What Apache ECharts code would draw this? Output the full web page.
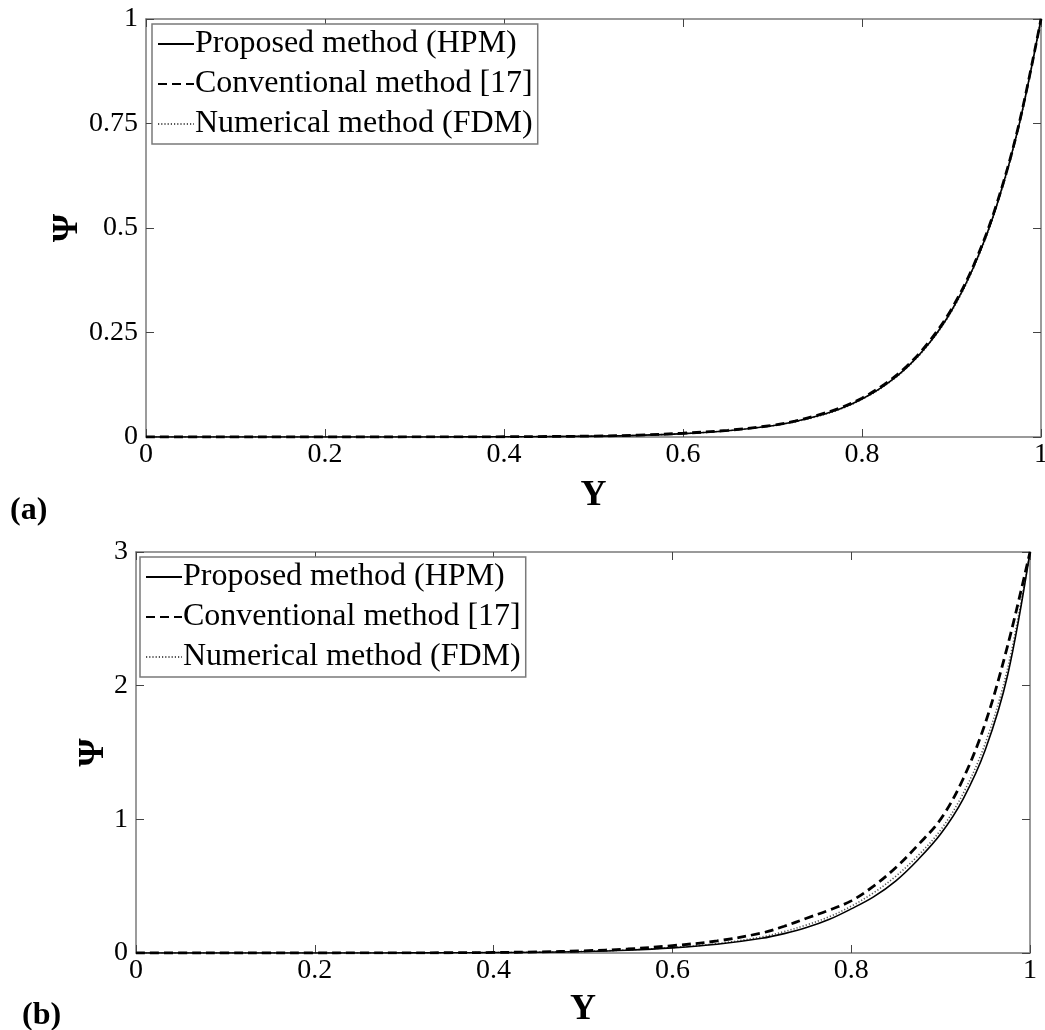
<!DOCTYPE html>
<html>
<head>
<meta charset="utf-8">
<script src="https://cdn.jsdelivr.net/npm/echarts@6/dist/echarts.min.js"></script>
<style>
  html, body { margin: 0; padding: 0; background: #fff; }
  #chart { width: 1045px; height: 1030px; }
</style>
</head>
<body>
<div id="chart"></div>
<script>
// Dimensionless coordinate Y (shared by both panels)
const Y_VALUES = [0, 0.05, 0.1, 0.15, 0.2, 0.25, 0.3, 0.35, 0.4, 0.45, 0.5, 0.55, 0.6, 0.65,
  0.7, 0.725, 0.75, 0.775, 0.8, 0.825, 0.85, 0.875, 0.9, 0.925, 0.95, 0.975, 1];

// Panel (a)
const HPM_A  = [0, 0, 0, 0, 0, 0, 0, 0.0002, 0.0005, 0.001, 0.002, 0.004, 0.008, 0.015,
  0.027, 0.037, 0.05, 0.067, 0.091, 0.123, 0.166, 0.224, 0.302, 0.408, 0.55, 0.742, 1];
const CONV_A = [0, 0, 0, 0, 0, 0, 0.0001, 0.0003, 0.0006, 0.0012, 0.0023, 0.0045, 0.009, 0.016,
  0.028, 0.038, 0.052, 0.069, 0.093, 0.126, 0.169, 0.228, 0.306, 0.412, 0.554, 0.745, 1];
const FDM_A  = [0, 0, 0, 0, 0, 0, 0, 0.0002, 0.0005, 0.001, 0.002, 0.004, 0.008, 0.015,
  0.027, 0.036, 0.049, 0.066, 0.09, 0.122, 0.165, 0.223, 0.3, 0.406, 0.548, 0.74, 1];

// Panel (b)
const HPM_B  = [0, 0, 0, 0, 0, 0.0003, 0.0007, 0.0015, 0.003, 0.006, 0.011, 0.021, 0.038, 0.065,
  0.11, 0.145, 0.19, 0.25, 0.33, 0.42, 0.54, 0.70, 0.89, 1.15, 1.52, 2.08, 3.0];
const CONV_B = [0, 0, 0, 0, 0, 0.0005, 0.001, 0.002, 0.004, 0.008, 0.016, 0.03, 0.055, 0.09,
  0.15, 0.2, 0.26, 0.32, 0.39, 0.50, 0.64, 0.81, 1.0, 1.30, 1.72, 2.30, 3.0];
const FDM_B  = [0, 0, 0, 0, 0, 0.0003, 0.0008, 0.0016, 0.0033, 0.0065, 0.012, 0.023, 0.041, 0.07,
  0.12, 0.16, 0.21, 0.27, 0.35, 0.45, 0.575, 0.73, 0.92, 1.19, 1.57, 2.13, 3.0];

const SERIES_NAMES = ['Proposed method (HPM)', 'Conventional method [17]', 'Numerical method (FDM)'];
const X_TICKS = [0, 0.2, 0.4, 0.6, 0.8, 1];
const Y_TICKS_A = [0, 0.25, 0.5, 0.75, 1];
const Y_TICKS_B = [0, 1, 2, 3];
const PANEL_TAGS = ['(a)', '(b)'];
const AXIS_TITLE_X = 'Y';
const AXIS_TITLE_Y = 'Ψ';

const SERIF = '"Liberation Serif", "DejaVu Serif", serif';
const BOX = '#7a7a7a';
const WIDTH = 1045;

// Plot rectangles of the two panels, plus where their titles, tags and legends sit
const GRIDS = [
  { left: 146, right: 4, top: 19, height: 418 },
  { left: 136, right: 15, top: 552, height: 401 }
];
const Y_TITLE_X = [68, 94];
const X_TITLE_Y = [496, 1010];
const TAG_POS = [{ left: 5, top: 490 }, { left: 17, top: 995 }];
const LEGEND_POS = [{ left: 152, top: 24 }, { left: 140, top: 557 }];

const pairs = (ys) => Y_VALUES.map((x, i) => [x, ys[i]]);

const lineStyles = [
  { color: '#000', width: 1.6, type: 'solid' },
  { color: '#000', width: 2.8, type: [9, 5] },
  { color: '#555', width: 1.6, type: [1.2, 2] }
];

const tickLabel = { fontFamily: SERIF, fontSize: 28, color: '#000' };
const titleFont = { fontFamily: SERIF, fontWeight: 'bold', fontSize: 36, fill: '#000' };

function xAxes(gridIndex) {
  const common = {
    type: 'value', min: 0, max: 1, interval: 0.2, gridIndex,
    splitLine: { show: false },
    axisLine: { show: true, onZero: false, lineStyle: { color: BOX, width: 1.5 } },
    axisTick: { show: true, inside: true, length: 8, lineStyle: { color: '#444', width: 1 } }
  };
  return [
    Object.assign({}, common, {
      position: 'bottom',
      axisLabel: Object.assign({}, tickLabel, {
        margin: 4,
        formatter: (v) => (X_TICKS.includes(+v.toFixed(2)) ? String(+v.toFixed(2)) : '')
      })
    }),
    Object.assign({}, common, { position: 'top', axisLabel: { show: false } })
  ];
}

function yAxes(gridIndex, max, interval, ticks) {
  const common = {
    type: 'value', min: 0, max, interval, gridIndex,
    splitLine: { show: false },
    axisLine: { show: true, onZero: false, lineStyle: { color: BOX, width: 1.5 } },
    axisTick: { show: true, inside: true, length: 8, lineStyle: { color: '#444', width: 1 } }
  };
  return [
    Object.assign({}, common, {
      position: 'left',
      axisLabel: Object.assign({}, tickLabel, {
        margin: 8,
        formatter: (v) => (ticks.includes(+v.toFixed(2)) ? String(+v.toFixed(2)) : '')
      })
    }),
    Object.assign({}, common, { position: 'right', axisLabel: { show: false } })
  ];
}

function panelSeries(panel, dataSets) {
  return dataSets.map((ys, k) => ({
    type: 'line',
    name: SERIES_NAMES[k],
    xAxisIndex: panel * 2,
    yAxisIndex: panel * 2,
    data: pairs(ys),
    symbol: 'none',
    smooth: 0.35,
    lineStyle: lineStyles[k],
    itemStyle: { color: lineStyles[k].color },
    z: 3 - k
  }));
}

function legendAt(pos) {
  return {
    orient: 'vertical',
    left: pos.left, top: pos.top,
    data: SERIES_NAMES,
    selectedMode: false,
    backgroundColor: '#fff',
    borderColor: BOX, borderWidth: 1.5, borderRadius: 0,
    padding: [0, 5, 0, 5],
    itemWidth: 36, itemHeight: 14, itemGap: 0,
    itemStyle: { color: 'rgba(0,0,0,0)', borderWidth: 0, opacity: 0 },
    textStyle: { fontFamily: SERIF, fontSize: 32, color: '#000', padding: [0, 0, 0, -4], lineHeight: 40 }
  };
}

// Axis titles placed beside each plot rectangle
function axisTitles() {
  const out = [];
  GRIDS.forEach((g, i) => {
    out.push({
      type: 'text', x: Y_TITLE_X[i], y: g.top + g.height / 2, rotation: Math.PI / 2,
      style: Object.assign({ text: AXIS_TITLE_Y, align: 'center', verticalAlign: 'middle' }, titleFont)
    });
    out.push({
      type: 'text', x: g.left + (WIDTH - g.left - g.right) / 2, y: X_TITLE_Y[i],
      style: Object.assign({ text: AXIS_TITLE_X, align: 'center', verticalAlign: 'middle' }, titleFont)
    });
  });
  return out;
}

const chart = echarts.init(document.getElementById('chart'), null, { renderer: 'canvas' });

chart.setOption({
  backgroundColor: '#fff',
  animation: false,
  title: PANEL_TAGS.map((t, i) => ({
    text: t, left: TAG_POS[i].left, top: TAG_POS[i].top,
    textStyle: { fontFamily: SERIF, fontWeight: 'bold', fontSize: 32, color: '#000' }
  })),
  grid: GRIDS.map((g) => Object.assign({ outerBoundsMode: 'none', containLabel: false }, g)),
  legend: LEGEND_POS.map(legendAt),
  graphic: axisTitles(),
  xAxis: [...xAxes(0), ...xAxes(1)],
  yAxis: [...yAxes(0, 1, 0.25, Y_TICKS_A), ...yAxes(1, 3, 1, Y_TICKS_B)],
  series: [
    ...panelSeries(0, [HPM_A, CONV_A, FDM_A]),
    ...panelSeries(1, [HPM_B, CONV_B, FDM_B])
  ]
});
</script>
</body>
</html>
